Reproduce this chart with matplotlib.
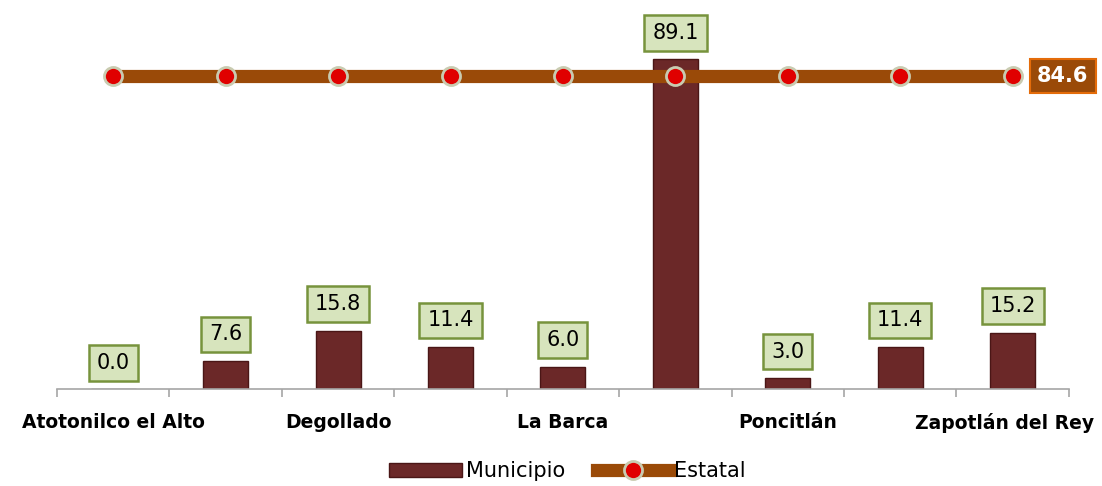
import matplotlib
matplotlib.use("Agg")
import matplotlib.pyplot as plt
import matplotlib.transforms as mtransforms
from matplotlib.lines import Line2D
from matplotlib.patches import Patch

categories = ["Atotonilco el Alto", "Ayotlán", "Degollado", "Jamay", "La Barca",
              "Ocotlán", "Poncitlán", "Tototlán", "Zapotlán del Rey"]
municipio = [0.0, 7.6, 15.8, 11.4, 6.0, 89.1, 3.0, 11.4, 15.2]
estatal = [84.6] * 9

fig = plt.figure(figsize=(11.02, 4.86), dpi=100)
ax = fig.add_axes([0.0517, 0.1996, 0.9183, 0.761])
x = list(range(len(categories)))

bar_col = "#6b2828"
line_col = "#9a4a08"

ax.bar(x, municipio, width=0.4, color=bar_col, edgecolor="#4a1616", linewidth=1.0, zorder=2)
ax.plot(x, estatal, color=line_col, lw=9.5, solid_capstyle="butt", zorder=3)
ax.plot(x, estatal, ls="none", marker="o", markersize=13, markerfacecolor="#e00000",
        markeredgecolor="#c9cbb0", markeredgewidth=2, zorder=4)

for xi, v in zip(x, municipio):
    ax.annotate(f"{v:.1f}", (xi, v), xytext=(0, 19), textcoords="offset points",
                ha="center", va="center", fontsize=15, color="black", zorder=5,
                bbox=dict(boxstyle="square,pad=0.38", fc="#d7e4bd", ec="#77933c", lw=1.8))

ax.annotate(f"{estatal[-1]:.1f}", (x[-1], estatal[-1]), xytext=(36, 0), textcoords="offset points",
            ha="center", va="center", fontsize=15, fontweight="bold", color="white", zorder=5,
            bbox=dict(boxstyle="square,pad=0.35", fc=line_col, ec="#e46c0a", lw=1.5))

ax.set_xlim(-0.5, len(categories) - 0.5)
ax.set_ylim(0, 100)
for s in ["top", "right", "left"]:
    ax.spines[s].set_visible(False)
ax.spines["bottom"].set_color("#a6a6a6")
ax.spines["bottom"].set_linewidth(1.2)
ax.set_yticks([])

ax.set_xticks([i - 0.5 for i in range(len(categories) + 1)])
ax.set_xticklabels([])
ax.tick_params(axis="x", which="major", length=6, color="#a6a6a6", width=1.2, direction="out")
ax.set_xticks(x, minor=True)
ax.set_xticklabels([c if i % 2 == 0 else "" for i, c in enumerate(categories)], minor=True,
                   fontsize=13.5, fontweight="bold")
ax.tick_params(axis="x", which="minor", length=0, pad=17)
last = ax.get_xticklabels(minor=True)[-1]
last.set_transform(last.get_transform() + mtransforms.ScaledTranslation(-8 / 100, 0, fig.dpi_scale_trans))

handles = [Patch(facecolor=bar_col, edgecolor="#4a1616", label="Municipio"),
           Line2D([0], [0], color=line_col, lw=9.5, marker="o", markersize=13,
                  markerfacecolor="#e00000", markeredgecolor="#c9cbb0", markeredgewidth=2,
                  label="Estatal")]
fig.legend(handles=handles, loc="center", bbox_to_anchor=(0.515, 0.03), ncol=2, frameon=False,
           fontsize=15, handlelength=3.5, handletextpad=0.2, columnspacing=1.5)

fig.savefig("out.png", dpi=100)
